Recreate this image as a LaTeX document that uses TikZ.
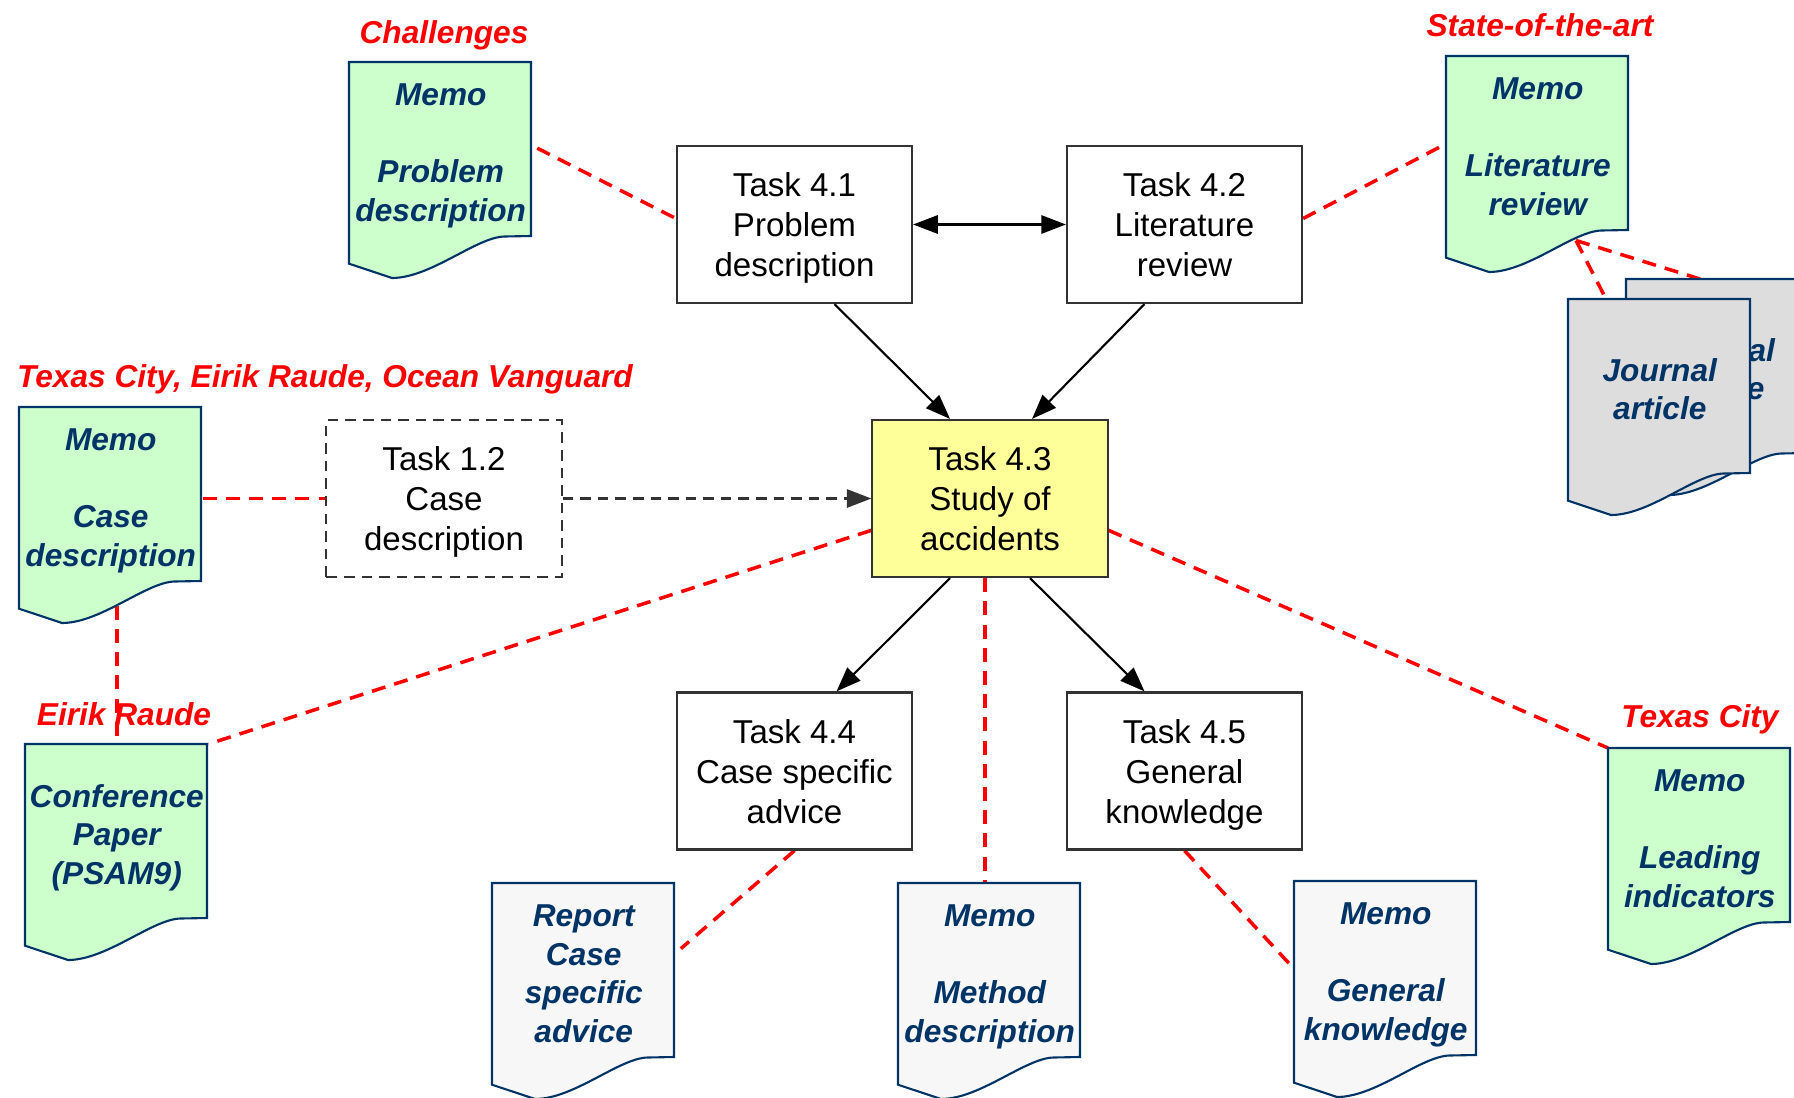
\documentclass[tikz,border=0pt]{standalone}
\usepackage{fontspec}
\setmainfont{Liberation Sans}
\usetikzlibrary{arrows.meta,calc}
\definecolor{docblue}{HTML}{003366}
\definecolor{docgreen}{HTML}{CCFFCC}
\definecolor{docgray}{HTML}{DDDDDD}
\definecolor{doclight}{HTML}{F7F7F7}
\definecolor{taskyellow}{HTML}{FFFF99}
\definecolor{linkred}{HTML}{FF0000}
\definecolor{boxline}{HTML}{333333}
\pgfdeclarelayer{bg}
\pgfsetlayers{bg,main}
\newcommand\tasktop{\rule{0pt}{8.9pt}}
\newcommand\taskbot{\rule[-2pt]{0pt}{2pt}}
\newcommand\doctop{\rule{0pt}{9.9pt}}
\newcommand\docbot{\rule[-2pt]{0pt}{2pt}}
\tikzset{
  docline/.style={draw=docblue, line width=0.6pt},
  doctext/.style={inner sep=0pt, minimum width=1.82cm, minimum height=1.74cm,
    align=center, text=docblue, font=\fontsize{9}{10.95}\selectfont\bfseries\itshape},
  redlabel/.style={inner sep=0pt, text=linkred, text height=8.6pt, text depth=2pt,
    font=\fontsize{9}{11}\selectfont\bfseries\itshape},
  task/.style={draw=boxline, line width=0.6pt, fill=white, minimum width=2.35cm,
    minimum height=1.57cm, inner sep=0pt, align=center, font=\fontsize{9.4}{11.4}\selectfont},
  redlink/.style={draw=linkred, line width=1pt, dash pattern=on 4pt off 2.6pt},
  arr/.style={draw=black, line width=0.6pt, -{Triangle[length=7pt,width=5.2pt]}},
  dblarr/.style={draw=black, line width=0.6pt, {Triangle[length=7pt,width=5.2pt]}-{Triangle[length=7pt,width=5.2pt]}},
  dasharr/.style={draw=boxline, line width=0.6pt, dash pattern=on 3pt off 2pt, -{Triangle[length=7pt,width=5.2pt]}},
}
\newcommand\docshape[5]{%
  \path[docline, fill=#4] (#2,#3) -- ({#2+182},#3) -- ({#2+182},{#3+174})
    -- ({#2+155.6},{#3+174.5}) .. controls ({#2+127.4},{#3+175}) and ({#2+81.9},{#3+216}) .. ({#2+43},{#3+216})
    -- (#2,{#3+201.7}) -- cycle;
  \node[doctext, anchor=north west] (#1) at (#2,#3) {\doctop#5\docbot};
}
\begin{document}
\begin{tikzpicture}[x=0.01cm, y=-0.01cm]
\path[use as bounding box, clip] (0,0) rectangle (1794,1097);

% task boxes
\node[task] (T41) at (794.5,224.5) {\tasktop Task 4.1\\Problem\\description\taskbot};
\node[task] (T42) at (1184.5,224.5) {\tasktop Task 4.2\\Literature\\review\taskbot};
\node[task, fill=taskyellow] (T43) at (990,498.5) {\tasktop Task 4.3\\Study of\\accidents\taskbot};
\node[task, dash pattern=on 3pt off 2pt] (T12) at (444,498.5) {\tasktop Task 1.2\\Case\\description\taskbot};
\node[task] (T44) at (794.5,771) {\tasktop Task 4.4\\Case specific\\advice\taskbot};
\node[task] (T45) at (1184.5,771) {\tasktop Task 4.5\\General\\knowledge\taskbot};

% documents
\docshape{PD}{349}{62}{docgreen}{Memo\\\mbox{}\\Problem\\description}
\docshape{LR}{1446}{56}{docgreen}{Memo\\\mbox{}\\Literature\\review}
\docshape{JAb}{1626}{279}{docgray}{Journal\\article}
\docshape{JAf}{1568}{299}{docgray}{Journal\\article}
\docshape{CD}{19}{407}{docgreen}{Memo\\\mbox{}\\Case\\description}
\docshape{CP}{25}{744}{docgreen}{Conference\\Paper\\(PSAM9)}
\docshape{RP}{492}{883}{doclight}{Report\\Case\\specific\\advice}
\docshape{MD}{898}{883}{doclight}{Memo\\\mbox{}\\Method\\description}
\docshape{GK}{1294}{881}{doclight}{Memo\\\mbox{}\\General\\knowledge}
\docshape{LI}{1608}{748}{docgreen}{Memo\\\mbox{}\\Leading\\indicators}

% red labels
\node[redlabel] (L1) at (444,32) {Challenges};
\node[redlabel] (L2) at (1540,25) {State-of-the-art};
\node[redlabel] (L3) at (325,376) {Texas City, Eirik Raude, Ocean Vanguard};
\node[redlabel] (L4) at (124,714) {Eirik Raude};
\node[redlabel] (L5) at (1700,716) {Texas City};

% black connectors
\draw[dblarr] (T41.east) -- (T42.west);
\draw[arr] ($(T41.south)+(40,0)$) -- ($(T43.north)+(-40,0)$);
\draw[arr] ($(T42.south)+(-40,0)$) -- ($(T43.north)+(42,0)$);
\draw[arr] ($(T43.south)+(-40,0)$) -- ($(T44.north)+(42,0)$);
\draw[arr] ($(T43.south)+(40,0)$) -- ($(T45.north)+(-40,0)$);
\draw[dasharr] (T12.east) -- (T43.west);

% red dashed connectors (behind)
\begin{pgfonlayer}{bg}
\coordinate (LRpt) at ($(LR.south west)+(130,9)$);
\coordinate (JAfpt) at ($(JAf.north west)+(38,0)$);
\coordinate (JAbpt) at ($(JAb.north west)+(74,0)$);
\coordinate (T43a) at ($(T43.north west)!0.7!(T43.south west)$);
\coordinate (T43b) at ($(T43.north east)!0.7!(T43.south east)$);
\coordinate (T43c) at ($(T43.south)+(-5,0)$);
\coordinate (RPpt) at ($(RP.north east)!0.4!(RP.south east)$);
\draw[redlink, shorten <=1.5pt] ([yshift=0.04cm]PD.east) -- ([yshift=0.06cm]T41.west);
\draw[redlink, shorten >=1.5pt] ([yshift=0.06cm]T42.east) -- (LR.west);
\draw[redlink] (LRpt) -- (JAfpt);
\draw[redlink] (LRpt) -- (JAbpt);
\draw[redlink] (CD.east |- T12.west) -- (T12.west);
\draw[redlink] (CD.south -| CP.north) -- (CP.north);
\draw[redlink] (T43a) -- (CP.north east);
\draw[redlink] (T43b) -- (LI.north west);
\draw[redlink] (T43c) -- (T43c |- MD.north);
\draw[redlink, shorten >=2pt] (T44.south) -- (RPpt);
\draw[redlink, shorten >=2pt] (T45.south) -- (GK.west);
\end{pgfonlayer}
\end{tikzpicture}
\end{document}
